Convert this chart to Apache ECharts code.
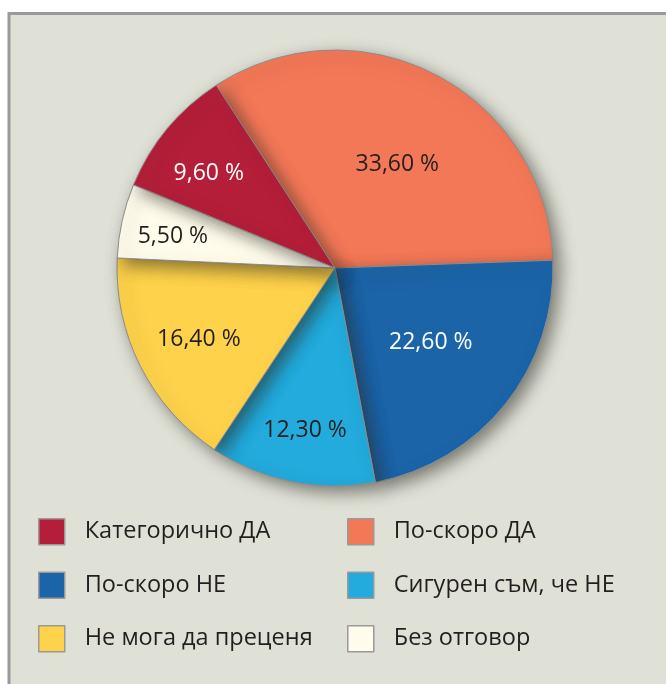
<!DOCTYPE html>
<html>
<head>
<meta charset="utf-8">
<script src="https://cdn.jsdelivr.net/npm/echarts@6/dist/echarts.min.js"></script>
<style>
    html, body { margin: 0; padding: 0; background: #fff; }
    #chart { width: 666px; height: 684px; }
</style>
</head>
<body>
<div id="chart"></div>
<script>
// категории и стойности (по часовниковата стрелка, започва от "По-скоро ДА")
var categories = ['По-скоро ДА', 'По-скоро НЕ', 'Сигурен съм, че НЕ', 'Не мога да преценя', 'Без отговор', 'Категорично ДА'];
var values = [33.6, 22.6, 12.3, 16.4, 5.5, 9.6];
var colors = ['#f37858', '#1b64a8', '#22abdc', '#fed24a', '#fffcec', '#b41e39'];
var labelColors = ['#231f20', '#ffffff', '#231f20', '#231f20', '#231f20', '#ffffff'];
// къде стоят надписите: част от радиуса и отместване от средния ъгъл (в градуси)
var labelRadius = [0.564, 0.55, 0.75, 0.70, 0.76, 0.73];
var labelTurn = [-3.0, 1.7, 0.9, 0, 0.7, 2.2];

var legendLeft = ['Категорично ДА', 'По-скоро НЕ', 'Не мога да преценя'];
var legendRight = ['По-скоро ДА', 'Сигурен съм, че НЕ', 'Без отговор'];

var cx = 335, cy = 268, R = 218, startAngle = 123;
var fontFamily = '"Open Sans", "Noto Sans", sans-serif';

// средният ъгъл на всеки сектор - за надписите
var total = values.reduce(function (a, b) { return a + b; }, 0);
var midAngles = [];
var acc = 0;
values.forEach(function (v, i) {
    midAngles.push((startAngle - (acc + v / 2) / total * 360 + labelTurn[i]) * Math.PI / 180);
    acc += v;
});

var chart = echarts.init(document.getElementById('chart'));

var pieData = categories.map(function (name, i) {
    return {
        name: name,
        value: values[i],
        itemStyle: { color: colors[i] },
        label: { color: labelColors[i] }
    };
});

function legendOf(names, left) {
    return {
        data: names,
        orient: 'vertical',
        left: left,
        top: 518,
        padding: 0,
        itemWidth: 26,
        itemHeight: 26,
        itemGap: 26,
        icon: 'rect',
        selectedMode: false,
        itemStyle: { borderColor: '#9a9a9a', borderWidth: 1.5 },
        textStyle: {
            fontFamily: fontFamily,
            fontSize: 23.5,
            color: '#231f20',
            padding: [2, 0, 0, 15]
        }
    };
}

chart.setOption({
    backgroundColor: '#ffffff',
    animation: false,
    graphic: [{
        type: 'rect',
        z: -10,
        shape: { x: 9, y: 13.5, width: 700, height: 700 },
        style: { fill: '#dfe1d7', stroke: '#999a9c', lineWidth: 3 }
    }],
    legend: [legendOf(legendLeft, 38), legendOf(legendRight, 347)],
    series: [{
        type: 'pie',
        center: [cx, cy],
        radius: R,
        startAngle: startAngle,
        clockwise: true,
        silent: true,
        data: pieData,
        itemStyle: {
            borderColor: '#8c8c8c',
            borderWidth: 1,
            shadowColor: 'rgba(40, 40, 35, 0.55)',
            shadowBlur: 16,
            shadowOffsetX: 6,
            shadowOffsetY: 6
        },
        label: {
            position: 'inside',
            fontFamily: fontFamily,
            fontSize: 23,
            formatter: function (p) {
                return p.value.toFixed(2).replace('.', ',') + ' %';
            }
        },
        labelLayout: function (p) {
            var a = midAngles[p.dataIndex];
            var r = labelRadius[p.dataIndex] * R;
            return {
                x: cx + r * Math.cos(a),
                y: cy - r * Math.sin(a) + 2,
                align: 'center',
                verticalAlign: 'middle'
            };
        }
    }]
});
</script>
</body>
</html>
